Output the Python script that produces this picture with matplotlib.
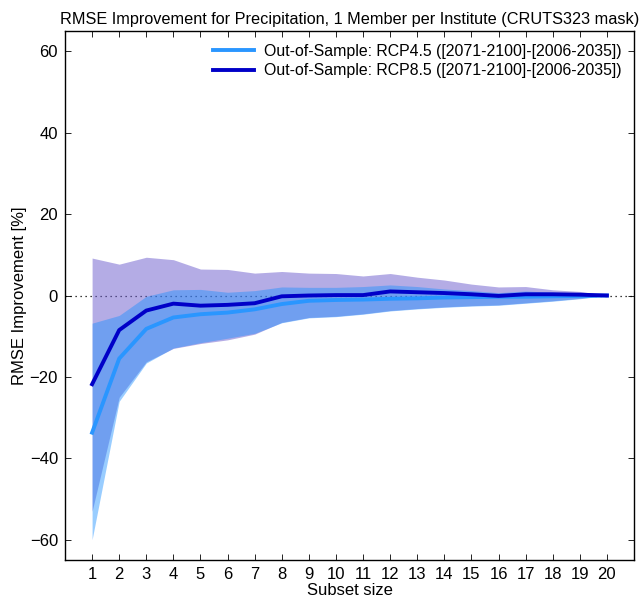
import matplotlib
matplotlib.use("Agg")
import matplotlib.pyplot as plt
import numpy as np

plt.rcParams['font.family'] = ['Liberation Sans', 'DejaVu Sans']

subset_size = list(range(1, 21))

rcp45_mean = [-33.7, -15.5, -8.2, -5.4, -4.6, -4.2, -3.4, -2.1, -1.3, -1.1,
              -1.0, -0.8, -0.7, -0.5, -0.4, -0.3, -0.3, -0.2, -0.1, 0.0]
rcp45_upper = [-6.8, -4.9, -0.2, 1.4, 1.5, 0.8, 1.2, 2.1, 2.0, 2.0,
               2.2, 2.6, 2.2, 1.6, 1.2, 0.7, 1.1, 0.8, 0.5, 0.0]
rcp45_lower = [-60.0, -26.0, -16.6, -12.9, -11.6, -10.5, -9.3, -6.7, -5.5, -5.2,
               -4.6, -3.8, -3.3, -2.9, -2.6, -2.4, -1.9, -1.4, -0.8, 0.0]

rcp85_mean = [-21.8, -8.5, -3.7, -2.0, -2.5, -2.3, -1.9, -0.2, 0.0, 0.1,
              0.1, 1.0, 0.8, 0.6, 0.3, -0.1, 0.3, 0.3, 0.2, 0.0]
rcp85_upper = [9.2, 7.7, 9.4, 8.8, 6.5, 6.4, 5.5, 5.9, 5.5, 5.4,
               4.8, 5.4, 4.5, 3.8, 2.8, 2.1, 2.2, 1.4, 1.0, 0.0]
rcp85_lower = [-53.0, -25.0, -16.3, -13.0, -11.8, -10.9, -9.5, -6.6, -5.4, -5.1,
               -4.5, -3.7, -3.2, -2.8, -2.5, -2.3, -1.8, -1.3, -0.7, 0.0]

label45 = 'Out-of-Sample: RCP4.5 ([2071-2100]-[2006-2035])'
label85 = 'Out-of-Sample: RCP8.5 ([2071-2100]-[2006-2035])'

fig = plt.figure(figsize=(6.42, 5.99), dpi=100)
ax = fig.add_axes([65/642, 1-560/599, (634-65)/642, (560-31)/599])

ax.axhline(0, color='black', linestyle=(0, (1, 3)), linewidth=0.9, zorder=1)

ax.fill_between(subset_size, rcp85_lower, rcp85_upper, color='#6a5acd', alpha=0.5, linewidth=0, zorder=2)
ax.fill_between(subset_size, rcp45_lower, rcp45_upper, color='#1e90ff', alpha=0.45, linewidth=0, zorder=3)

ax.plot(subset_size, rcp45_mean, color='#2a96ff', linewidth=2.8, label=label45, zorder=4)
ax.plot(subset_size, rcp85_mean, color='#0000c8', linewidth=2.8, label=label85, zorder=5)

ax.set_xlim(0, 21)
ax.set_ylim(-65, 65)
ax.set_xticks(subset_size)
ax.set_yticks([-60, -40, -20, 0, 20, 40, 60])
ax.tick_params(direction='in', top=True, right=True, labelsize=12, length=4, width=0.6, pad=5)
for s in ax.spines.values():
    s.set_linewidth(1.0)

ax.set_xlabel('Subset size', fontsize=12, labelpad=1)
ax.set_ylabel('RMSE Improvement [%]', fontsize=12, labelpad=2)
ax.set_title('RMSE Improvement for Precipitation, 1 Member per Institute (CRUTS323 mask)', fontsize=11.7, pad=5)

leg = ax.legend(loc='upper right', frameon=False, fontsize=11.4, handlelength=2.6, borderaxespad=0.4, labelspacing=0.3, handletextpad=0.6)

fig.savefig('out.png', dpi=100)
